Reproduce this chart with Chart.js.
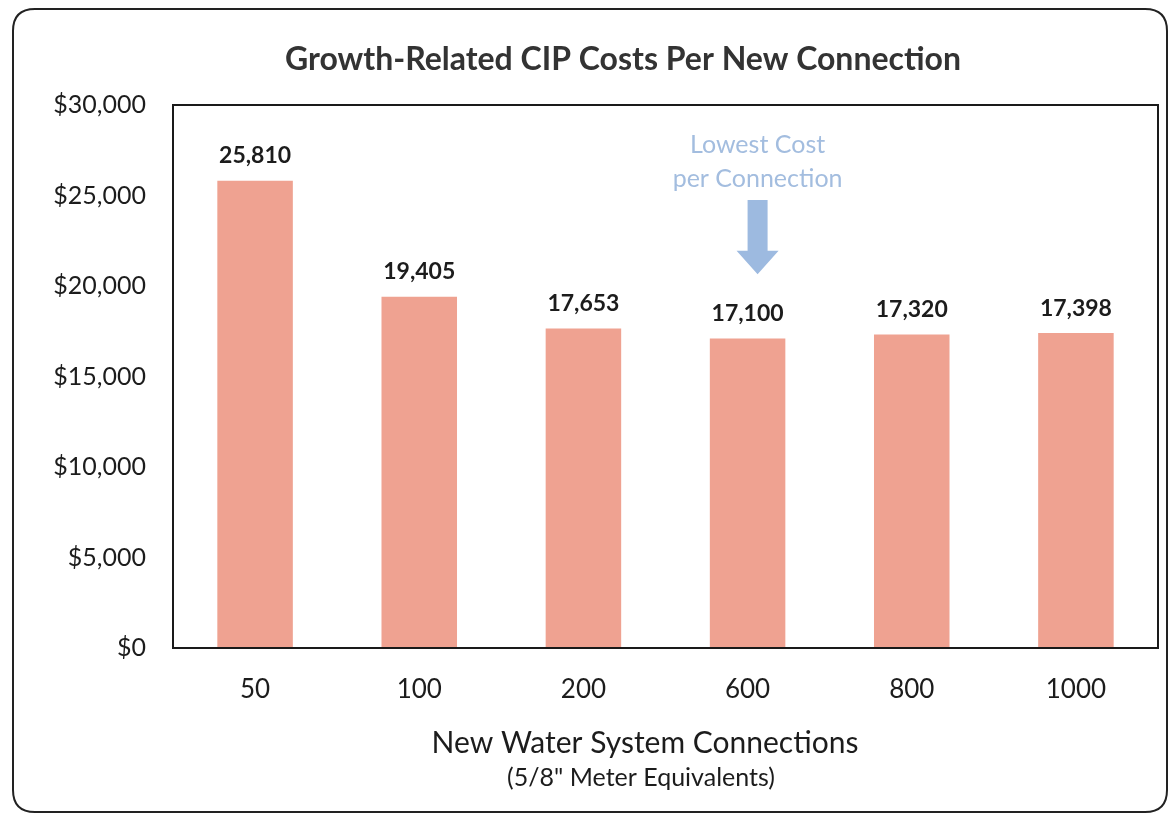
<!DOCTYPE html>
<html>
<head>
<meta charset="utf-8">
<script src="https://cdn.jsdelivr.net/npm/chart.js@4.4.1/dist/chart.umd.min.js"></script>
<style>
  html, body { margin: 0; padding: 0; background: #ffffff; }
  #wrap { position: relative; width: 1169px; height: 815px; }
</style>
</head>
<body>
<div id="wrap"><canvas id="c" width="1169" height="815"></canvas></div>
<script>
// ---- data ----
const categories = ['50', '100', '200', '600', '800', '1000'];
const costPerConnection = [25810, 19405, 17653, 17100, 17320, 17398];
const yTickValues = [0, 5000, 10000, 15000, 20000, 25000, 30000];

// ---- text ----
const chartTitle = 'Growth-Related CIP Costs Per New Connection';
const xTitle = 'New Water System Connections';
const xSubtitle = '(5/8" Meter Equivalents)';
const calloutLines = ['Lowest Cost', 'per Connection'];
const calloutCategory = '600';

// ---- callout placement (value units on the cost axis) ----
const calloutTextValues = [27790, 25910];
const calloutArrowTop = 24750;
const calloutShaftEnd = 21950;
const calloutArrowTip = 20650;

const FONT = 'Lato, "Open Sans", sans-serif';
const INK = '#1c1c1c';

const fmt = v => v.toLocaleString('en-US');

const framePlugin = {
  id: 'frame',
  beforeDraw(chart) {
    const ctx = chart.ctx;
    ctx.save();
    ctx.fillStyle = '#ffffff';
    ctx.fillRect(0, 0, chart.width, chart.height);
    // rounded outer border
    const x = 13, y = 9, w = 1154, h = 803, r = 22;
    ctx.beginPath();
    ctx.moveTo(x + r, y);
    ctx.lineTo(x + w - r, y);
    ctx.quadraticCurveTo(x + w, y, x + w, y + r);
    ctx.lineTo(x + w, y + h - r);
    ctx.quadraticCurveTo(x + w, y + h, x + w - r, y + h);
    ctx.lineTo(x + r, y + h);
    ctx.quadraticCurveTo(x, y + h, x, y + h - r);
    ctx.lineTo(x, y + r);
    ctx.quadraticCurveTo(x, y, x + r, y);
    ctx.closePath();
    ctx.lineWidth = 2;
    ctx.strokeStyle = '#222222';
    ctx.stroke();
    ctx.restore();
  },
  afterDatasetsDraw(chart) {
    const ctx = chart.ctx;
    const a = chart.chartArea;
    const xs = chart.scales.x, ys = chart.scales.y;
    ctx.save();
    // plot box
    ctx.lineWidth = 2;
    ctx.strokeStyle = '#1a1a1a';
    ctx.strokeRect(a.left, a.top, a.right - a.left, a.bottom - a.top);

    // value labels above bars
    ctx.fillStyle = INK;
    ctx.font = 'bold 23px ' + FONT;
    ctx.textAlign = 'center';
    ctx.textBaseline = 'middle';
    const meta = chart.getDatasetMeta(0);
    meta.data.forEach((bar, i) => {
      ctx.fillText(fmt(costPerConnection[i]), bar.x, bar.y - 25);
    });

    // callout: text + down arrow
    const cx = xs.getPixelForValue(categories.indexOf(calloutCategory)) + 10;
    ctx.fillStyle = '#A3BDDF';
    ctx.font = '25px ' + FONT;
    calloutLines.forEach((t, i) => ctx.fillText(t, cx, ys.getPixelForValue(calloutTextValues[i])));
    const yTop = ys.getPixelForValue(calloutArrowTop);
    const yShaft = ys.getPixelForValue(calloutShaftEnd);
    const yTip = ys.getPixelForValue(calloutArrowTip);
    ctx.fillStyle = '#9DBAE0';
    ctx.beginPath();
    ctx.moveTo(cx - 10, yTop);
    ctx.lineTo(cx + 10, yTop);
    ctx.lineTo(cx + 10, yShaft);
    ctx.lineTo(cx + 21, yShaft);
    ctx.lineTo(cx, yTip);
    ctx.lineTo(cx - 21, yShaft);
    ctx.lineTo(cx - 10, yShaft);
    ctx.closePath();
    ctx.fill();
    ctx.restore();
  },
  afterDraw(chart) {
    const ctx = chart.ctx;
    ctx.save();
    ctx.textAlign = 'center';
    ctx.textBaseline = 'middle';
    ctx.fillStyle = '#333333';
    ctx.font = 'bold 32px ' + FONT;
    ctx.fillText(chartTitle, 623, 60);
    ctx.fillStyle = INK;
    ctx.font = '30px ' + FONT;
    ctx.fillText(xTitle, 645, 743);
    ctx.font = '25px ' + FONT;
    ctx.fillText(xSubtitle, 641, 778);
    ctx.restore();
  }
};

new Chart(document.getElementById('c'), {
  type: 'bar',
  data: {
    labels: categories,
    datasets: [{
      data: costPerConnection,
      backgroundColor: '#EFA291',
      borderWidth: 0,
      categoryPercentage: 1.0,
      barPercentage: 0.46
    }]
  },
  options: {
    responsive: false,
    animation: false,
    devicePixelRatio: 1,
    layout: { padding: { top: 105, right: 11, left: 0, bottom: 0 } },
    plugins: {
      legend: { display: false },
      tooltip: { enabled: false },
      title: { display: false }
    },
    scales: {
      x: {
        grid: { display: false, drawTicks: false },
        border: { display: false },
        ticks: { color: INK, font: { family: FONT, size: 26 }, padding: 26 },
        afterFit(scale) { scale.height = 167; }
      },
      y: {
        min: 0,
        max: 30000,
        afterBuildTicks(scale) { scale.ticks = yTickValues.map(v => ({ value: v })); },
        grid: { display: false, drawTicks: false },
        border: { display: false },
        ticks: {
          color: INK,
          font: { family: FONT, size: 25 },
          padding: 27,
          callback: v => '$' + fmt(v)
        },
        afterFit(scale) { scale.width = 173; }
      }
    }
  },
  plugins: [framePlugin]
});
</script>
</body>
</html>
